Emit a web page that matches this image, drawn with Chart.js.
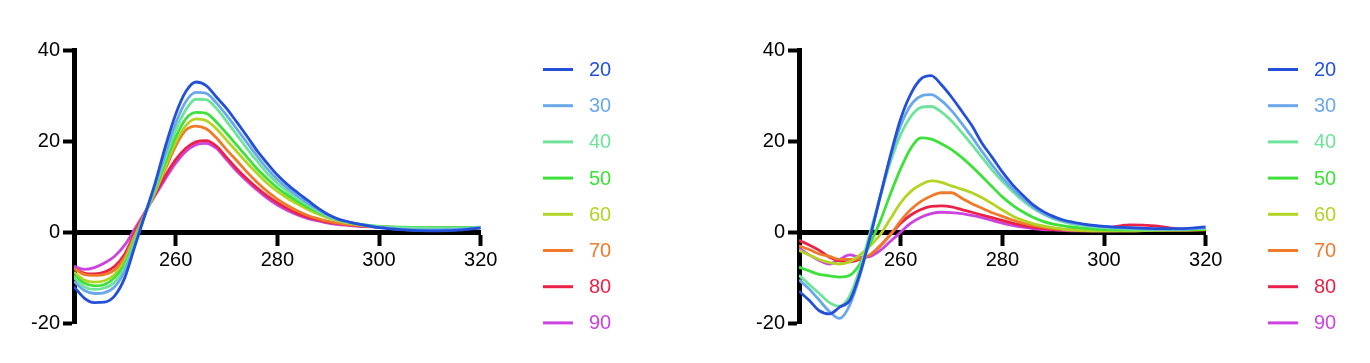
<!DOCTYPE html>
<html>
<head>
<meta charset="utf-8">
<script src="https://cdn.jsdelivr.net/npm/chart.js@4.4.1/dist/chart.umd.min.js"></script>
<style>
    html, body { margin: 0; padding: 0; background: #fff; }
    .painel { position: absolute; top: 0; }
</style>
</head>
<body>
<div class="painel" style="left:0"><canvas id="graficoA" width="685" height="363"></canvas></div>
<div class="painel" style="left:685px"><canvas id="graficoB" width="685" height="363"></canvas></div>
<script>
// Comprimentos de onda (nm) e temperaturas
const comprimentos = [240, 242, 244, 246, 248, 250, 252, 254, 256, 258, 260, 262, 264, 266, 268, 270,
    272, 274, 276, 278, 280, 282, 284, 286, 288, 290, 292, 294, 296, 298, 300, 305, 310, 315, 320];
const temperaturas = ['20', '30', '40', '50', '60', '70', '80', '90'];
const cores = ['#2450d8', '#6aa8ec', '#6fe39a', '#3ee03a', '#b4d424', '#f07a2a', '#ea2248', '#cc44e0'];
const ticksY = [-20, 0, 20, 40];
const ticksX = [260, 280, 300, 320];

// Painel esquerdo
const esq20 = [-12, -14.5, -15.5, -15.4, -14, -10, -3, 4, 11, 19, 26, 31, 33.1, 32.3, 29.8, 27.3,
    24.3, 21.2, 18, 15.2, 12.6, 10.5, 8.7, 7, 5.3, 3.9, 2.9, 2.3, 1.8, 1.4, 1.0, 0.5, 0.3, 0.4, 0.9];
const esq30 = [-10.8, -12.8, -13.5, -13.3, -12, -8.5, -2.5, 4, 10.5, 17.5, 24, 28.8, 30.8, 30.6, 28.5, 25.8,
    22.8, 19.8, 16.8, 14, 11.6, 9.7, 8, 6.4, 5, 3.7, 2.8, 2.2, 1.8, 1.4, 1.1, 0.6, 0.5, 0.6, 1.0];
const esq40 = [-10, -12, -12.6, -12.3, -11, -7.8, -2, 4, 10, 16.5, 22.5, 27, 29.3, 29.2, 27.3, 24.5,
    21.5, 18.5, 15.7, 13, 10.8, 9, 7.4, 6, 4.7, 3.5, 2.7, 2.2, 1.8, 1.5, 1.2, 1, 0.9, 0.9, 1.0];
const esq50 = [-9.5, -11.2, -11.8, -11.5, -10, -7, -1.5, 4, 9.5, 15.5, 21, 25, 26.4, 26.2, 24.3, 21.8,
    19.2, 16.6, 14, 11.8, 9.8, 8.2, 6.8, 5.5, 4.4, 3.4, 2.7, 2.2, 1.8, 1.5, 1.3, 1.1, 1.0, 1.0, 1.1];
const esq60 = [-8.8, -10.5, -11, -10.7, -9.3, -6.3, -1, 4, 9, 14.5, 19.8, 23.5, 25, 24.6, 22.8, 20.3,
    17.8, 15.3, 13, 10.8, 9, 7.5, 6.2, 5, 4, 3.1, 2.5, 2, 1.7, 1.4, 1.2, 1, 0.9, 0.9, 1.0];
const esq70 = [-8, -9.3, -9.5, -9.3, -8.3, -5.5, -0.5, 4.2, 9, 14, 19, 22.5, 23.4, 22.8, 20.8, 18.2,
    15.8, 13.3, 11, 9, 7.3, 5.9, 4.7, 3.7, 3, 2.4, 2, 1.7, 1.5, 1.3, 1.2, 1, 0.9, 0.9, 1.0];
const esq80 = [-8, -9, -9.2, -8.8, -7.5, -4.8, 0, 4.3, 8.5, 12.5, 16, 18.5, 19.9, 20.2, 19, 16.5,
    14, 11.8, 9.8, 8, 6.5, 5.2, 4.1, 3.3, 2.7, 2.2, 1.9, 1.6, 1.4, 1.3, 1.2, 1, 0.9, 0.9, 1.0];
const esq90 = [-7.5, -8.2, -7.8, -6.8, -5.3, -2.8, 0.8, 4.5, 8.2, 11.8, 15.2, 17.8, 19.3, 19.6, 18.5, 16,
    13.5, 11.3, 9.3, 7.5, 6, 4.8, 3.8, 3, 2.5, 2, 1.7, 1.5, 1.3, 1.2, 1.1, 1, 0.9, 0.9, 1.0];

// Painel direito
const dir20 = [-13, -15, -17.3, -18, -16.5, -15, -9, -1, 8, 17, 25, 30.5, 33.8, 34.5, 32.5, 29.8,
    26.7, 23.5, 19.6, 16.5, 13.3, 10.5, 8.2, 6.1, 4.6, 3.5, 2.7, 2.2, 1.8, 1.5, 1.3, 1.0, 0.8, 0.8, 1.2];
const dir30 = [-10.5, -12.5, -15, -17.5, -19, -16, -9.5, -1, 8, 16.5, 23.5, 28, 30, 30.3, 29, 26.8,
    24, 21, 17.8, 14.8, 12, 9.6, 7.5, 5.6, 4.2, 3.2, 2.5, 2, 1.7, 1.4, 1.2, 0.9, 0.7, 0.7, 1.0];
const dir40 = [-9.5, -11.5, -13.5, -15.5, -16.3, -14, -8, 0, 8, 15.5, 21.5, 25.5, 27.5, 27.7, 26.5, 24.5,
    22, 19.3, 16.5, 13.7, 11.2, 9, 7, 5.3, 4, 3, 2.3, 1.8, 1.5, 1.2, 1.0, 0.7, 0.6, 0.6, 0.9];
const dir50 = [-7.7, -8.5, -9.3, -9.6, -9.9, -9.5, -7, -2.5, 2.5, 8.5, 14, 18.5, 20.8, 20.5, 19.5, 18.2,
    16.5, 14.5, 12.3, 10, 7.8, 6, 4.5, 3.3, 2.4, 1.8, 1.4, 1.1, 0.9, 0.7, 0.6, 0.5, 0.5, 0.5, 0.7];
const dir60 = [-4, -5, -6, -6.7, -7, -6.5, -5, -3, -0.5, 3, 6.5, 9, 10.5, 11.3, 11, 10.2,
    9.5, 8.7, 7.6, 6.3, 4.9, 3.6, 2.6, 1.9, 1.4, 1.0, 0.7, 0.5, 0.4, 0.3, 0.3, 0.3, 0.4, 0.5, 0.6];
const dir70 = [-3, -3.8, -4.8, -5.3, -6, -6, -5.8, -5, -3, -0.5, 2.5, 5, 6.8, 8, 8.7, 8.7,
    7.5, 6.3, 5.3, 4.3, 3.5, 2.7, 2, 1.5, 1.1, 0.8, 0.6, 0.4, 0.3, 0.3, 0.3, 0.3, 0.4, 0.4, 0.5];
const dir80 = [-1.8, -2.8, -4, -5.5, -6.3, -6.5, -6, -5, -3, -0.5, 2, 3.8, 5, 5.7, 5.8, 5.6,
    5, 4.4, 3.8, 3.2, 2.6, 2, 1.5, 1.1, 0.8, 0.6, 0.5, 0.5, 0.5, 0.6, 0.8, 1.6, 1.4, 0.7, 0.6];
const dir90 = [-3.5, -5, -6.2, -7, -6, -5, -5.5, -5.3, -4, -2, 0, 2, 3.3, 4.1, 4.4, 4.3,
    4.1, 3.7, 3.2, 2.6, 2, 1.5, 1.1, 0.8, 0.6, 0.5, 0.4, 0.3, 0.3, 0.3, 0.3, 0.4, 0.5, 0.5, 0.6];

const FONTE = '"Liberation Sans", Arial, sans-serif';

// Legenda lateral: traço colorido + texto na mesma cor
const legendaLateral = {
    id: 'legendaLateral',
    afterDraw(chart, args, opts) {
        const ctx = chart.ctx;
        ctx.save();
        ctx.font = '20px ' + FONTE;
        ctx.textBaseline = 'middle';
        chart.data.datasets.forEach((ds, i) => {
            const y = opts.topo + i * opts.passo;
            ctx.strokeStyle = ds.borderColor;
            ctx.lineWidth = 3;
            ctx.beginPath();
            ctx.moveTo(opts.x1, y);
            ctx.lineTo(opts.x2, y);
            ctx.stroke();
            ctx.fillStyle = ds.borderColor;
            ctx.fillText(ds.label, opts.xTexto, y + 1);
        });
        ctx.restore();
    }
};

function criarGrafico(idCanvas, series, larguraEixoY, direita) {
    const ctx = document.getElementById(idCanvas).getContext('2d');
    return new Chart(ctx, {
        type: 'line',
        data: {
            datasets: series.map((s, i) => ({
                label: temperaturas[i],
                data: comprimentos.map((x, k) => ({ x: x, y: s[k] })),
                borderColor: cores[i],
                borderWidth: 2.8,
                pointRadius: 0,
                tension: 0.4,
                cubicInterpolationMode: 'monotone',
                fill: false
            }))
        },
        options: {
            responsive: false,
            animation: false,
            layout: { padding: { left: 0, top: 50.7, right: direita, bottom: 40 } },
            plugins: {
                legend: { display: false },
                tooltip: { enabled: false },
                legendaLateral: { topo: 69.5, passo: 36.2, x1: larguraEixoY + 469, x2: larguraEixoY + 499, xTexto: larguraEixoY + 515 }
            },
            scales: {
                x: {
                    type: 'linear',
                    min: 240,
                    max: 320,
                    position: { y: 0 },
                    afterBuildTicks: (s) => { s.ticks = [240].concat(ticksX).map(v => ({ value: v })); },
                    ticks: {
                        callback: (v) => (v === 240 ? '' : String(v)),
                        color: '#000',
                        font: { family: FONTE, size: 20 },
                        padding: 5,
                        maxRotation: 0,
                        autoSkip: false
                    },
                    grid: { drawOnChartArea: false, drawTicks: true, tickLength: 11, tickWidth: 4, tickColor: '#000' },
                    border: { display: true, width: 5, color: '#000' }
                },
                y: {
                    min: -20,
                    max: 40,
                    afterBuildTicks: (s) => { s.ticks = ticksY.map(v => ({ value: v })); },
                    afterFit: (s) => { s.width = larguraEixoY; },
                    ticks: {
                        color: '#000',
                        font: { family: FONTE, size: 20 },
                        padding: 3
                    },
                    grid: { drawOnChartArea: false, drawTicks: true, tickLength: 11, tickWidth: 4, tickColor: '#000' },
                    border: { display: true, width: 5, color: '#000' }
                }
            }
        },
        plugins: [legendaLateral]
    });
}

document.addEventListener('DOMContentLoaded', () => {
    criarGrafico('graficoA', [esq20, esq30, esq40, esq50, esq60, esq70, esq80, esq90], 74, 204.3);
    criarGrafico('graficoB', [dir20, dir30, dir40, dir50, dir60, dir70, dir80, dir90], 114, 164.3);
});
</script>
</body>
</html>
